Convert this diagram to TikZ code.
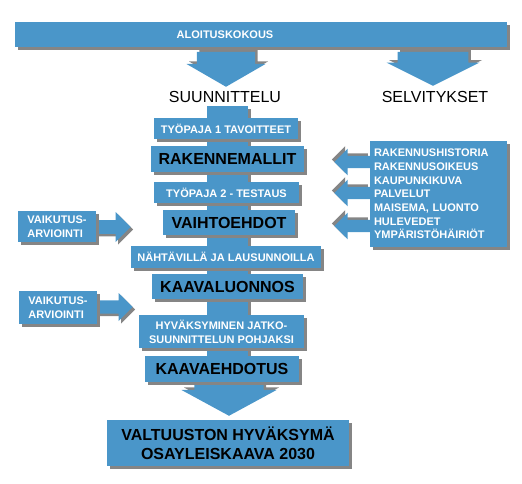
\documentclass[tikz,border=0pt]{standalone}
\usepackage{fontspec}
\setmainfont{Liberation Sans}
\definecolor{planblue}{HTML}{4A96C9}
\definecolor{shadowgrey}{HTML}{858585}
\usetikzlibrary{positioning, shapes.arrows, shadows}

\begin{document}
\begin{tikzpicture}[x=1pt,y=-1pt]
                    \tikzstyle{every node}=[font=\bfseries\fontsize{11}{13.7}\selectfont, inner sep=0pt]
                    \tikzstyle{shade} = [drop shadow={shadow xshift=2.5pt, shadow yshift=-2.5pt, fill=shadowgrey, opacity=1}]
                    % rotated arrows get their shadow shift turned back
                    \tikzstyle{shade down} = [drop shadow={shadow xshift=2.5pt, shadow yshift=2.5pt, fill=shadowgrey, opacity=1}]
                    \tikzstyle{shade left} = [drop shadow={shadow xshift=-2.5pt, shadow yshift=2.5pt, fill=shadowgrey, opacity=1}]
                    \tikzstyle{stage} = [rectangle, fill=planblue, text=white, shade]
                    \tikzstyle{phase} = [stage, text=black, font=\bfseries\fontsize{16}{19}\selectfont]
                    \tikzstyle{title} = [font=\fontsize{16}{19}\selectfont]
                    \tikzstyle{blockarrow} = [single arrow, fill=planblue, inner xsep=0pt]

                    \useasboundingbox (0,0) rectangle (522,483);

                    % aloituskokous and the two branches
                    \node[stage, minimum width=492pt, minimum height=25pt](start) at (261,34.5) {};
                    \node[text=white](starttext) at (225,35) {ALOITUSKOKOUS};
                    \node[blockarrow, shade down, rotate=-90, anchor=tip, inner ysep=19.5pt, minimum width=79pt, minimum height=35pt, single arrow tip angle=120](down1) at (226,87) {};
                    \node[blockarrow, shade down, rotate=-90, anchor=tip, inner ysep=22.5pt, minimum width=93pt, minimum height=34pt, single arrow tip angle=127](down2) at (433,86) {};
                    \node[title](plan) at (225,97) {SUUNNITTELU};
                    \node[title](survey) at (435,97) {SELVITYKSET};

                    % main column
                    \node[stage, minimum width=41pt, minimum height=289pt](column) at (227.5,250.5) {};
                    \node[blockarrow, shade down, rotate=-90, anchor=tip, inner ysep=19pt, minimum width=95pt, minimum height=41pt, single arrow tip angle=123](down3) at (229,416) {};

                    \node[stage, minimum width=144pt, minimum height=21pt](work1) at (226,128.5) {TYÖPAJA 1 TAVOITTEET};
                    \node[phase, minimum width=153pt, minimum height=26pt](models) at (227.5,159) {RAKENNEMALLIT};
                    \node[stage, minimum width=145pt, minimum height=21pt](work2) at (226.5,192.5) {TYÖPAJA 2 - TESTAUS};
                    \node[phase, minimum width=132pt, minimum height=25pt](options) at (229,222.5) {VAIHTOEHDOT};
                    \node[stage, minimum width=190pt, minimum height=22pt](display) at (226,257) {NÄHTÄVILLÄ JA LAUSUNNOILLA};
                    \node[phase, minimum width=151pt, minimum height=25pt](draft) at (227.5,286.5) {KAAVALUONNOS};
                    \node[stage, minimum width=165pt, minimum height=33pt, align=center](accept) at (221.5,331.5) {HYVÄKSYMINEN JATKO-\\SUUNNITTELUN POHJAKSI};
                    \node[phase, minimum width=154pt, minimum height=26pt](proposal) at (222,369) {KAAVAEHDOTUS};
                    \node[phase, minimum width=242pt, minimum height=46pt, align=center](final) at (228,443) {VALTUUSTON HYVÄKSYMÄ\\OSAYLEISKAAVA 2030};

                    % selvitykset into the column
                    \foreach \y/\n in {162/1, 193/2, 226/3}
                        \node[blockarrow, shade left, rotate=180, anchor=tip, inner ysep=6pt, minimum width=23pt, minimum height=36pt](left\n) at (334,\y) {};
                    \node[stage, text width=129pt, inner xsep=4pt, minimum height=106pt, align=left](surveys) at (438.5,194) {RAKENNUSHISTORIA\\RAKENNUSOIKEUS\\KAUPUNKIKUVA\\PALVELUT\\MAISEMA, LUONTO\\HULEVEDET\\YMPÄRISTÖHÄIRIÖT};

                    % vaikutusarvioinnit
                    \node[blockarrow, shade, anchor=tip, inner ysep=6pt, minimum width=30pt, minimum height=35pt](right1) at (131,227) {};
                    \node[blockarrow, shade, anchor=tip, inner ysep=6pt, minimum width=28pt, minimum height=36pt](right2) at (133,307) {};
                    \node[stage, minimum width=78pt, minimum height=31pt, align=left](impact1) at (57,226.5) {VAIKUTUS-\\ARVIOINTI};
                    \node[stage, minimum width=78pt, minimum height=33pt, align=left](impact2) at (58,307.5) {VAIKUTUS-\\ARVIOINTI};
            \end{tikzpicture}
\end{document}
